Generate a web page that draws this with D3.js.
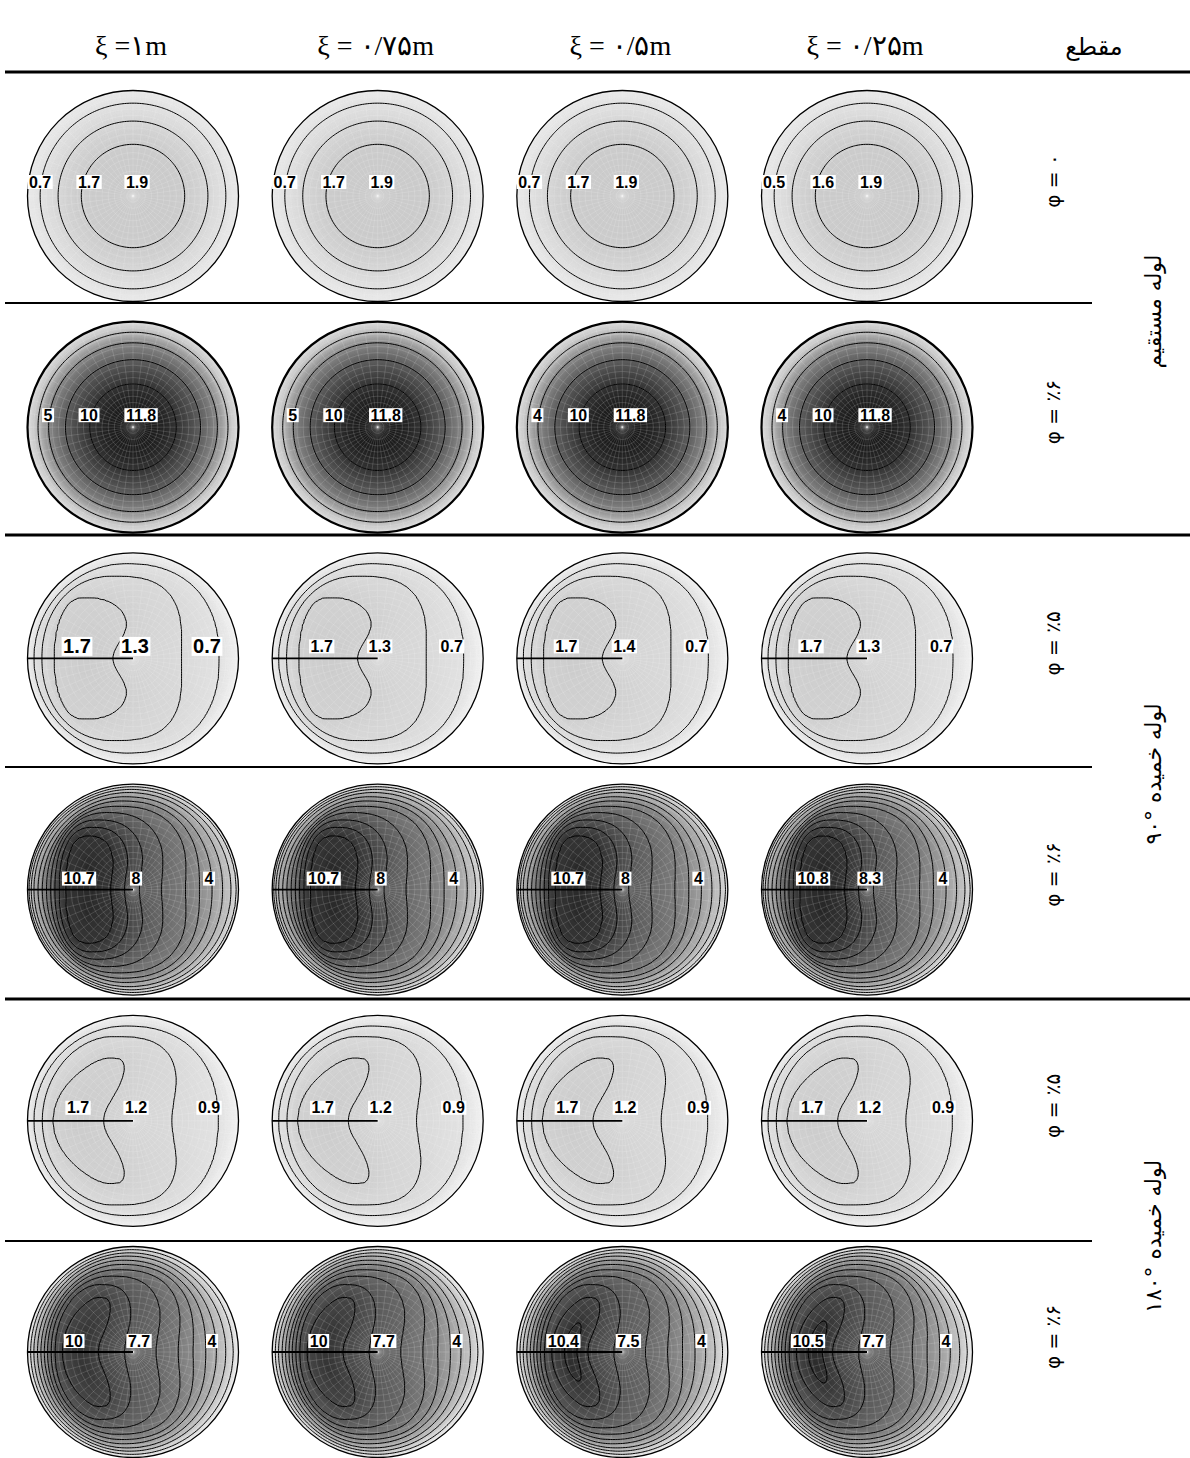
<!DOCTYPE html>
<html lang="fa">
<head>
<meta charset="utf-8">
<title>کانتور سرعت محوری در مقاطع لوله</title>
<script src="https://cdn.jsdelivr.net/npm/d3@7"></script>
<style>
  html, body { margin: 0; padding: 0; background: #fff; }
  svg { display: block; }
</style>
</head>
<body>
<svg id="fig" width="1190" height="1458"></svg>
<script>
// ---------- headers ----------
const stations = ["ξ =۱m", "ξ = ۰/۷۵m", "ξ = ۰/۵m", "ξ = ۰/۲۵m"];
const sectionHeader = "مقطع";
const pipeGroups = ["لوله مستقیم", "لوله خمیده \u2066۹۰°\u2069", "لوله خمیده \u2066۱۸۰°\u2069"];
const phiLabels = ["φ = ۰", "φ = ٪۶", "φ = ٪۵", "φ = ٪۶", "φ = ٪۵", "φ = ٪۶"];

// ---------- straight pipe, φ = 0 : radial profile ----------
const straight0Radius = [0, 0.25, 0.49, 0.71, 0.88, 1];
const straight0Value  = [1.9, 1.84, 1.7, 1.2, 0.7, 0.35];
const straight0Levels = [0.7, 1.2, 1.7];
const straight0Labels = [[0.7, 1.7, 1.9], [0.7, 1.7, 1.9], [0.7, 1.7, 1.9], [0.5, 1.6, 1.9]];

// ---------- straight pipe, φ = 6% : radial profile ----------
const straight6Radius = [0, 0.2, 0.41, 0.64, 0.8, 0.9, 1];
const straight6Value  = [11.8, 11.4, 10, 7.5, 5, 2.5, 0.8];
const straight6Levels = [2.5, 5, 7.5, 10];
const straight6Labels = [[5, 10, 11.8], [5, 10, 11.8], [4, 10, 11.8], [4, 10, 11.8]];

// Bends: each iso-line is described by where it crosses the horizontal
// diameter (left / right, in radii), its vertical half-height, the bulge of
// its inner-wall side, its crescent bend and the squareness of each side.

// ---------- 90° bend, φ = 5% ----------
const bend90p5Value  = [0, 0.7, 1.1, 1.5, 1.7];
const bend90p5Left   = [-1, -0.94, -0.865, -0.75, -0.5];
const bend90p5Right  = [1, 0.82, 0.46, -0.19, -0.44];
const bend90p5Half   = [1, 0.9, 0.78, 0.58, 0.12];
const bend90p5Bulge  = [0, 0, 0.02, 0.22, 0.05];
const bend90p5Bend   = [0, 0, 0, 0, 0];
const bend90p5SqL    = [2, 2, 2.1, 2.2, 2];
const bend90p5SqR    = [2, 2.3, 3, 2.5, 2];
const bend90p5Levels = [0.7, 1.1, 1.5];
const bend90p5Labels = [[1.7, 1.3, 0.7], [1.7, 1.3, 0.7], [1.7, 1.4, 0.7], [1.7, 1.3, 0.7]];

// ---------- 90° bend, φ = 6% ----------
const bend90p6Value  = [0, 1, 2, 3, 4, 5, 6, 7, 8, 9, 10, 10.7];
const bend90p6Left   = [-1, -0.985, -0.965, -0.94, -0.9, -0.86, -0.82, -0.78, -0.74, -0.7, -0.64, -0.45];
const bend90p6Right  = [1, 0.98, 0.93, 0.85, 0.75, 0.63, 0.5, 0.27, 0.06, -0.08, -0.21, -0.4];
const bend90p6Half   = [1, 0.975, 0.95, 0.92, 0.88, 0.84, 0.79, 0.73, 0.66, 0.59, 0.51, 0.2];
const bend90p6Bulge  = [0, 0, 0, 0, 0, 0.02, 0.04, 0.06, 0.08, 0.07, 0.05, 0];
const bend90p6Bend   = [0, 0, 0, 0, 0, 0, 0, 0, 0, 0, 0, 0];
const bend90p6SqL    = [2, 2, 2, 2, 2, 2, 2.1, 2.2, 2.3, 2.4, 2.6, 2];
const bend90p6SqR    = [2, 2, 2, 2.1, 2.2, 2.4, 2.6, 2.6, 2.6, 2.7, 2.8, 2];
const bend90p6Levels = [1, 2, 3, 4, 5, 6, 7, 8, 9, 10];
const bend90p6Labels = [[10.7, 8, 4], [10.7, 8, 4], [10.7, 8, 4], [10.8, 8.3, 4]];

// ---------- 180° bend, φ = 5% ----------
const bend180p5Value  = [0, 0.7, 1.1, 1.5, 1.7];
const bend180p5Left   = [-1, -0.94, -0.86, -0.76, -0.55];
const bend180p5Right  = [1, 0.81, 0.37, -0.28, -0.47];
const bend180p5Half   = [1, 0.9, 0.8, 0.6, 0.15];
const bend180p5Bulge  = [0, 0, 0.08, 0.12, 0];
const bend180p5Bend   = [0, 0, 0.05, 0.3, 0.05];
const bend180p5SqL    = [2, 2, 2, 2.2, 2];
const bend180p5SqR    = [2, 2.3, 3, 2.4, 2];
const bend180p5Levels = [0.7, 1.1, 1.5];
const bend180p5Labels = [[1.7, 1.2, 0.9], [1.7, 1.2, 0.9], [1.7, 1.2, 0.9], [1.7, 1.2, 0.9]];

// ---------- 180° bend, φ = 6% ----------
const bend180p6Value  = [0, 1, 2, 3, 4, 5, 6, 7, 8, 9, 10];
const bend180p6Left   = [-1, -0.97, -0.94, -0.905, -0.873, -0.84, -0.81, -0.775, -0.74, -0.67, -0.5];
const bend180p6Right  = [1, 0.95, 0.88, 0.79, 0.69, 0.57, 0.43, 0.22, -0.08, -0.33, -0.47];
const bend180p6Half   = [1, 0.97, 0.94, 0.91, 0.87, 0.83, 0.78, 0.72, 0.64, 0.52, 0.18];
const bend180p6Bulge  = [0, 0, 0, 0, 0.02, 0.04, 0.06, 0.08, 0.08, 0.08, 0];
const bend180p6Bend   = [0, 0, 0, 0, 0, 0.02, 0.04, 0.07, 0.1, 0.18, 0.03];
const bend180p6SqL    = [2, 2, 2, 2, 2, 2, 2.1, 2.2, 2.3, 2.3, 2];
const bend180p6SqR    = [2, 2, 2, 2.1, 2.2, 2.4, 2.6, 2.6, 2.6, 2.4, 2];
const bend180p6Levels = [1, 2, 3, 4, 5, 6, 7, 8, 9, 10];
const bend180p6Labels = [[10, 7.7, 4], [10, 7.7, 4], [10.4, 7.5, 4], [10.5, 7.7, 4]];

const rows = [
  { kind: "straight", r: straight0Radius, v: straight0Value, levels: straight0Levels, labels: straight0Labels, peakIdx: 2 },
  { kind: "straight", r: straight6Radius, v: straight6Value, levels: straight6Levels, labels: straight6Labels, peakIdx: 2 },
  { kind: "bend", v: bend90p5Value, L: bend90p5Left, R: bend90p5Right, b: bend90p5Half, beta: bend90p5Bulge,
    gamma: bend90p5Bend, pL: bend90p5SqL, pR: bend90p5SqR, levels: bend90p5Levels, labels: bend90p5Labels, peakIdx: 0 },
  { kind: "bend", v: bend90p6Value, L: bend90p6Left, R: bend90p6Right, b: bend90p6Half, beta: bend90p6Bulge,
    gamma: bend90p6Bend, pL: bend90p6SqL, pR: bend90p6SqR, levels: bend90p6Levels, labels: bend90p6Labels, peakIdx: 0 },
  { kind: "bend", v: bend180p5Value, L: bend180p5Left, R: bend180p5Right, b: bend180p5Half, beta: bend180p5Bulge,
    gamma: bend180p5Bend, pL: bend180p5SqL, pR: bend180p5SqR, levels: bend180p5Levels, labels: bend180p5Labels, peakIdx: 0 },
  { kind: "bend", v: bend180p6Value, L: bend180p6Left, R: bend180p6Right, b: bend180p6Half, beta: bend180p6Bulge,
    gamma: bend180p6Bend, pL: bend180p6SqL, pR: bend180p6SqR, levels: bend180p6Levels, labels: bend180p6Labels, peakIdx: 0 }
];

// ---------- layout ----------
const W = 1190;
const RAD = 105.5;
const xPos = d3.scalePoint().domain(d3.range(stations.length)).range([133, 867]);
const yPos = d3.scalePoint().domain(d3.range(rows.length)).range([196, 1352]);
const labelDx = [[-93, -44, 4], [-85, -44, 8], [-56, 2, 74], [-54, 3, 76], [-55, 3, 76], [-59, 6, 79]];
const labelDy = [-14, -12, -12, -11, -13, -11];
const gray = d3.scalePow().exponent(0.9).domain([0, 12]).range(["#f4f4f4", "#141414"]).clamp(true);

// monotone cubic (Fritsch–Carlson) through radial profile knots
function monotone(xs, ys) {
  const n = xs.length, d = [], m = new Array(n);
  for (let i = 0; i < n - 1; i++) d.push((ys[i + 1] - ys[i]) / (xs[i + 1] - xs[i]));
  m[0] = d[0]; m[n - 1] = d[n - 2];
  for (let i = 1; i < n - 1; i++) m[i] = d[i - 1] * d[i] <= 0 ? 0 : (d[i - 1] + d[i]) / 2;
  for (let i = 0; i < n - 1; i++) {
    if (d[i] === 0) { m[i] = 0; m[i + 1] = 0; continue; }
    const a = m[i] / d[i], b = m[i + 1] / d[i], s = a * a + b * b;
    if (s > 9) { const t = 3 / Math.sqrt(s); m[i] = t * a * d[i]; m[i + 1] = t * b * d[i]; }
  }
  return x => {
    x = Math.max(xs[0], Math.min(xs[n - 1], x));
    const i = Math.min(n - 2, Math.max(0, d3.bisectRight(xs, x) - 1));
    const h = xs[i + 1] - xs[i], t = (x - xs[i]) / h, t2 = t * t, t3 = t2 * t;
    return (2 * t3 - 3 * t2 + 1) * ys[i] + (t3 - 2 * t2 + t) * h * m[i]
         + (-2 * t3 + 3 * t2) * ys[i + 1] + (t3 - t2) * h * m[i + 1];
  };
}

// point-in-isoline test for the bend shapes
function insideCurve(c, x, y) {
  const t = Math.abs(y) / c.b;
  if (t >= 1) return false;
  const cx = c.c + c.gamma * t * t;
  if (x <= cx) {
    const q = Math.pow(1 - Math.pow(t, c.pL), 1 / c.pL);
    return x >= cx - c.a * q;
  }
  const q = Math.pow(1 - Math.pow(t, c.pR), 1 / c.pR);
  const g = 1 - Math.exp(-(t / 0.45) * (t / 0.45));
  return x <= cx + (c.a + c.beta * g) * q;
}

function fieldFor(row, lab) {
  const peak = lab[row.peakIdx];
  if (row.kind === "straight") {
    const k = peak / d3.max(row.v);
    const P = monotone(row.r, row.v);
    return (x, y) => k * P(Math.min(1, Math.hypot(x, y)));
  }
  const vals = row.v.slice();
  vals[vals.length - 1] = peak;
  const s = key => d3.scaleLinear().domain(vals).range(row[key]);
  const sL = s("L"), sR = s("R"), sb = s("b"), sbeta = s("beta"), sg = s("gamma"), spL = s("pL"), spR = s("pR");
  const nT = 600;
  const table = d3.range(nT + 1).map(i => {
    const v = peak * i / nT, L = sL(v), R = sR(v);
    return { v, c: (L + R) / 2, a: Math.max(1e-4, (R - L) / 2), b: Math.max(1e-3, sb(v)),
             beta: sbeta(v), gamma: sg(v), pL: spL(v), pR: spR(v) };
  });
  return (x, y) => {
    const r = Math.hypot(x, y);
    if (r > 0.998) { x *= 0.998 / r; y *= 0.998 / r; }
    let lo = 0, hi = nT;
    if (insideCurve(table[hi], x, y)) return peak;
    while (hi - lo > 1) {
      const mid = (lo + hi) >> 1;
      if (insideCurve(table[mid], x, y)) lo = mid; else hi = mid;
    }
    return (table[lo].v + table[hi].v) / 2;
  };
}

const N = 131, GL = 1.03, step = 2 * GL / (N - 1);
const svg = d3.select("#fig");
const defs = svg.append("defs");

function gridPath(cx, cy) {
  return d3.geoPath(d3.geoTransform({
    point(px, py) {
      this.stream.point(cx + RAD * (-GL + (px - 0.5) * step), cy + RAD * (-GL + (py - 0.5) * step));
    }
  }));
}

rows.forEach((row, ri) => {
  row.labels.forEach((lab, ci) => {
    const cx = xPos(ci), cy = yPos(ri);
    const f = fieldFor(row, lab);
    const values = new Float64Array(N * N);
    let vmax = 0;
    for (let j = 0; j < N; j++) {
      const y = -GL + j * step;
      for (let i = 0; i < N; i++) {
        const v = f(-GL + i * step, y);
        values[j * N + i] = v;
        if (v > vmax) vmax = v;
      }
    }
    const id = `sec-${ri}-${ci}`;
    defs.append("clipPath").attr("id", id).append("circle").attr("cx", cx).attr("cy", cy).attr("r", RAD);
    const g = svg.append("g").attr("clip-path", `url(#${id})`);
    const path = gridPath(cx, cy);

    // continuous flood rendered as thin bands
    const fstep = vmax / 64;
    g.append("circle").attr("cx", cx).attr("cy", cy).attr("r", RAD).attr("fill", gray(0));
    const bands = d3.contours().size([N, N]).thresholds(d3.range(fstep / 2, vmax, fstep))(values);
    g.append("g").selectAll("path").data(bands).join("path")
      .attr("d", path)
      .attr("fill", d => gray(d.value + fstep / 2))
      .attr("stroke", d => gray(d.value + fstep / 2))
      .attr("stroke-width", 0.6);

    // computational mesh
    const mesh = g.append("g").attr("fill", "none").attr("stroke", "#ffffff")
      .attr("stroke-opacity", 0.24).attr("stroke-width", 0.6);
    d3.range(1, 17).forEach(n => mesh.append("circle").attr("cx", cx).attr("cy", cy).attr("r", RAD * n / 17));
    d3.range(48).forEach(n => {
      const a = n / 48 * 2 * Math.PI;
      mesh.append("line").attr("x1", cx).attr("y1", cy)
        .attr("x2", cx + RAD * Math.cos(a)).attr("y2", cy + RAD * Math.sin(a));
    });

    // iso-lines (only those that exist below the section's peak)
    const lvls = row.levels.filter(l => l < vmax - 0.05);
    const lines = d3.contours().size([N, N]).thresholds(lvls)(values);
    g.append("g").selectAll("path").data(lines).join("path")
      .attr("d", path).attr("fill", "none").attr("stroke", "#000").attr("stroke-width", 1);

    // wall
    svg.append("circle").attr("cx", cx).attr("cy", cy).attr("r", RAD)
      .attr("fill", "none").attr("stroke", "#000").attr("stroke-width", ri === 1 ? 2.2 : 1.3);

    // outer-wall radius in the bends
    if (row.kind === "bend") {
      svg.append("line").attr("x1", cx - RAD).attr("y1", cy).attr("x2", cx).attr("y2", cy)
        .attr("stroke", "#000").attr("stroke-width", 1.8);
    }

    // value labels
    const big = ri === 2 && ci === 0;
    lab.forEach((v, li) => {
      const lg = svg.append("g").attr("transform", `translate(${cx + labelDx[ri][li]},${cy + labelDy[ri]})`);
      const rect = lg.append("rect").attr("fill", "#fff");
      const t = lg.append("text").text(String(v))
        .attr("text-anchor", "middle").attr("dominant-baseline", "central")
        .attr("font-family", "'Liberation Sans', Arial, sans-serif").attr("font-weight", "bold")
        .attr("font-size", big ? 20 : 16).attr("fill", "#000");
      const bb = t.node().getBBox();
      rect.attr("x", bb.x - 1.5).attr("y", bb.y + 1.5).attr("width", bb.width + 3).attr("height", bb.height - 3);
    });
  });
});

// ---------- header ----------
stations.forEach((s, ci) => {
  svg.append("text").attr("x", xPos(ci) - 2).attr("y", 55).attr("text-anchor", "middle")
    .attr("font-family", "'Liberation Serif', 'DejaVu Serif', serif").attr("font-size", 28)
    .attr("direction", "ltr").text(s);
});
svg.append("text").attr("x", 1094).attr("y", 55).attr("text-anchor", "middle")
  .attr("font-family", "'DejaVu Sans', sans-serif").attr("font-size", 24).text(sectionHeader);

// ---------- separators ----------
const seps = [
  { y: 72, x2: W, w: 3 }, { y: 303, x2: 1092, w: 2 }, { y: 535, x2: W, w: 3 },
  { y: 767, x2: 1092, w: 2 }, { y: 999, x2: W, w: 3 }, { y: 1241, x2: 1092, w: 2 }
];
seps.forEach(s => svg.append("line").attr("x1", 5).attr("x2", s.x2).attr("y1", s.y).attr("y2", s.y)
  .attr("stroke", "#000").attr("stroke-width", s.w));

// ---------- row and group titles ----------
phiLabels.forEach((p, ri) => {
  svg.append("text").attr("transform", `translate(1053,${yPos(ri) - 15}) rotate(-90)`)
    .attr("text-anchor", "middle").attr("dominant-baseline", "central")
    .attr("font-family", "'DejaVu Sans', sans-serif").attr("font-size", 20).attr("direction", "ltr").text(p);
});
pipeGroups.forEach((gname, gi) => {
  const yc = (yPos(gi * 2) + yPos(gi * 2 + 1)) / 2;
  svg.append("text").attr("transform", `translate(1153,${yc}) rotate(-90)`)
    .attr("text-anchor", "middle").attr("dominant-baseline", "central").attr("direction", "rtl")
    .attr("font-family", "'DejaVu Sans', sans-serif").attr("font-size", 22).text(gname);
});
</script>
</body>
</html>
